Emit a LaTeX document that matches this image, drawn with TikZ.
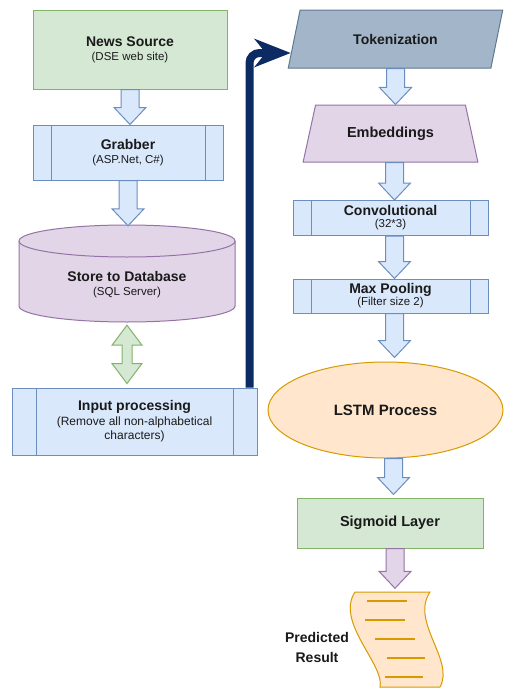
\documentclass[tikz,border=0pt]{standalone}
\usepackage{fontspec}
\setmainfont{Liberation Sans}
\usetikzlibrary{shapes.geometric,arrows.meta,calc}
\definecolor{gfill}{HTML}{D5E8D4}
\definecolor{gline}{HTML}{82B366}
\definecolor{bfill}{HTML}{DAE8FC}
\definecolor{bline}{HTML}{6C8EBF}
\definecolor{pfill}{HTML}{E1D5E7}
\definecolor{pline}{HTML}{9673A6}
\definecolor{ofill}{HTML}{FFE6CC}
\definecolor{oline}{HTML}{D79B00}
\definecolor{tfill}{HTML}{A3B6C9}
\definecolor{tline}{HTML}{5E7890}
\definecolor{navy}{HTML}{0C2B63}
\definecolor{txt}{HTML}{1A1A1A}
\newcommand{\flowarrow}[3]{\path[#1] let \p1=(#2), \p2=(#3) in
  (\x1-9pt,\y1) -- (\x1+9pt,\y1) -- (\x1+9pt,\y2+17pt) -- (\x1+16pt,\y2+17pt)
  -- (\x1,\y2) -- (\x1-16pt,\y2+17pt) -- (\x1-9pt,\y2+17pt) -- cycle;}
\newcommand{\dblflow}[3]{\path[#1] let \p1=(#2), \p2=(#3) in
  (\x1,\y1) -- (\x1+15pt,\y1-20pt) -- (\x1+5pt,\y1-20pt) -- (\x1+5pt,\y2+20pt)
  -- (\x1+15pt,\y2+20pt) -- (\x1,\y2) -- (\x1-15pt,\y2+20pt) -- (\x1-5pt,\y2+20pt)
  -- (\x1-5pt,\y1-20pt) -- (\x1-15pt,\y1-20pt) -- cycle;}
\newcommand{\ttl}{\fontsize{14}{16}\selectfont\bfseries}
\newcommand{\sbt}{\fontsize{11.5}{13.5}\selectfont\mdseries}
\tikzset{
  box/.style={rectangle, inner sep=0pt, align=center, text=txt, line width=1pt},
  greenbox/.style={box, fill=gfill, draw=gline},
  bluebox/.style={box, fill=bfill, draw=bline},
  procbox/.style={bluebox, path picture={
    \draw[bline, line width=1pt]
      ([xshift=#1]path picture bounding box.north west) -- ([xshift=#1]path picture bounding box.south west)
      ([xshift=-#1]path picture bounding box.north east) -- ([xshift=-#1]path picture bounding box.south east);}},
  bluearrow/.style={fill=bfill, draw=bline, line width=1pt, line join=miter},
  greenarrow/.style={fill=gfill, draw=gline, line width=1pt},
  purparrow/.style={fill=pfill, draw=pline, line width=1pt},
  dbshape/.style={fill=pfill, draw=pline, line width=1pt},
  navyarrow/.style={draw=navy, line width=8pt, rounded corners=10pt,
    -{Stealth[length=36pt,width=28pt,inset=11pt]}},
  docshape/.style={fill=ofill, draw=oline, line width=1pt},
  docline/.style={draw=oline, line width=1.5pt},
  plain/.style={inner sep=0pt, align=center, text=txt}
}
\begin{document}
\begin{tikzpicture}[x=1pt, y=-1pt]
\fill[white] (0,0) rectangle (504,688);
\path[use as bounding box] (0,0) rectangle (504,688);

% left column
\node[greenbox, minimum width=194pt, minimum height=79pt] (news) at (130,49.5)
  {\ttl News Source\\[2pt]\sbt (DSE web site)};
\node[procbox=18pt, minimum width=190pt, minimum height=55pt] (grab) at (128,152.5)
  {\ttl Grabber\\[2pt]\sbt (ASP.Net, C\#)};

\draw[dbshape] (19,241) -- (19,306) arc[start angle=180, end angle=360, x radius=108pt, y radius=16pt]
  -- (235,241) arc[start angle=0, end angle=180, x radius=108pt, y radius=16pt] -- cycle;
\draw[dbshape, fill=none] (19,241) arc[start angle=180, end angle=360, x radius=108pt, y radius=16pt];
\node[plain, minimum width=216pt, minimum height=97pt] (db) at (127,273.5) {};
\node[plain] (dbtext) at (127,285) {\ttl Store to Database\\[2pt]\sbt (SQL Server)};

\node[procbox=24pt, minimum width=245pt, minimum height=67pt,
  font=\fontsize{12}{14}\selectfont] (inp) at (134.5,421.5)
  {\ttl Input processing\\[1pt]\mdseries (Remove all non-alphabetical\\characters)};

% right column
\node[trapezium, trapezium left angle=63, trapezium right angle=117, trapezium stretches=true,
  minimum width=215pt, minimum height=58pt, inner sep=0pt, fill=tfill, draw=tline, line width=1pt, text=txt]
  (tok) at (395.5,39) {\ttl Tokenization};
\node[trapezium, trapezium left angle=62, trapezium right angle=62, trapezium stretches=true,
  minimum width=175pt, minimum height=57pt, inner sep=0pt, fill=pfill, draw=pline, line width=1pt, text=txt]
  (emb) at (390.5,133.5) {\fontsize{14.5}{16}\selectfont\bfseries Embeddings};
\node[procbox=18pt, minimum width=195pt, minimum height=35pt] (conv) at (390.5,218)
  {\ttl Convolutional\\[0pt]\sbt (32*3)};
\node[procbox=18pt, minimum width=195pt, minimum height=34pt] (maxp) at (390.5,296)
  {\ttl Max Pooling\\[0pt]\sbt (Filter size 2)};
\node[ellipse, minimum width=235pt, minimum height=96pt, inner sep=0pt, fill=ofill, draw=oline,
  line width=1pt, text=txt] (lstm) at (385.5,410) {\fontsize{15}{17}\selectfont\bfseries LSTM Process};
\node[greenbox, minimum width=186pt, minimum height=50pt] (sig) at (390,523)
  {\fontsize{14.5}{16}\selectfont\bfseries Sigmoid Layer};

% document
\draw[docshape] (355,592) -- (430,592) .. controls (410,622) and (455,660) .. (440,687)
  -- (380,687) .. controls (385,665) and (335,622) .. (355,592) -- cycle;
\node[plain, minimum width=90pt, minimum height=95pt] (doc) at (398,640) {};
\draw[docline] (367,601) -- (407,601);
\draw[docline] (365,620) -- (405,620);
\draw[docline] (375,639) -- (415,639);
\draw[docline] (387,658) -- (425,658);
\draw[docline] (385,677) -- (423,677);
\node[plain, font=\fontsize{14}{20}\selectfont\bfseries] (pred) at (317,647) {Predicted\\Result};

% connectors
\flowarrow{bluearrow}{news.south}{grab.north}
\flowarrow{bluearrow}{grab.south}{[yshift=-1pt]db.north}
\dblflow{greenarrow}{[yshift=-3pt]db.south}{[yshift=4pt]inp.north}
\flowarrow{bluearrow}{tok.south}{emb.north}
\flowarrow{bluearrow}{[xshift=4pt]emb.south}{conv.north}
\flowarrow{bluearrow}{[xshift=4pt]conv.south}{maxp.north}
\flowarrow{bluearrow}{[xshift=4pt]maxp.south}{[yshift=4pt]lstm.north}
\flowarrow{bluearrow}{[xshift=8pt]lstm.south}{[yshift=3pt]sig.north}
\flowarrow{purparrow}{[xshift=5pt]sig.south}{[yshift=4pt]doc.north}
\draw[navyarrow] ([xshift=-8pt]inp.north east) |- ([xshift=-3pt,yshift=-14pt]tok.west);
\end{tikzpicture}
\end{document}
